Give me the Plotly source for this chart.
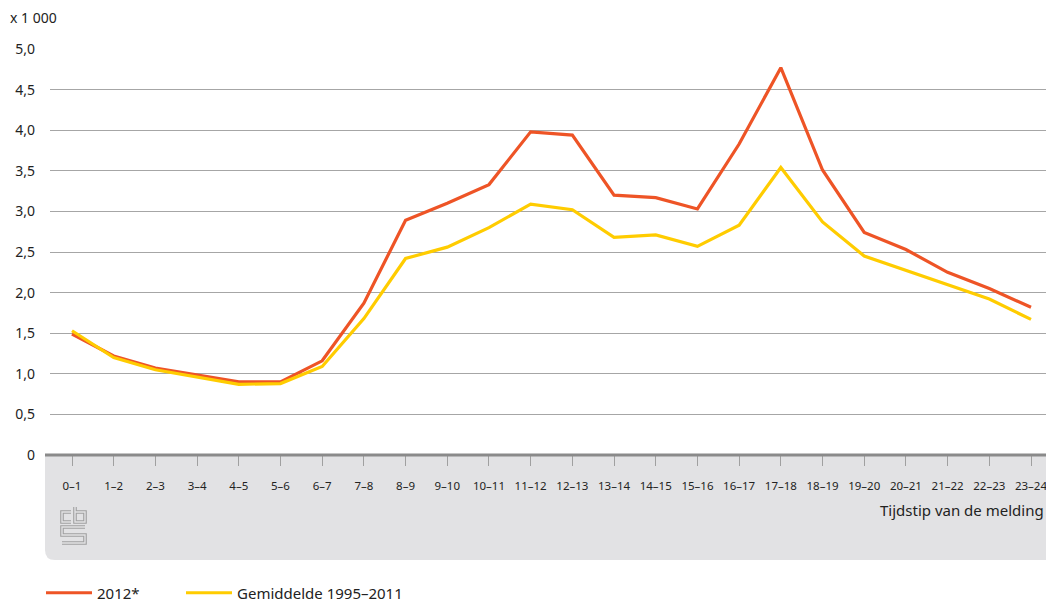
import plotly.graph_objects as go

categories = ["0–1", "1–2", "2–3", "3–4", "4–5", "5–6", "6–7", "7–8", "8–9", "9–10",
              "10–11", "11–12", "12–13", "13–14", "14–15", "15–16", "16–17", "17–18",
              "18–19", "19–20", "20–21", "21–22", "22–23", "23–24"]
series_2012 = [1.49, 1.22, 1.07, 0.98, 0.90, 0.90, 1.16, 1.87, 2.89, 3.10,
               3.33, 3.98, 3.94, 3.20, 3.17, 3.03, 3.83, 4.77,
               3.51, 2.74, 2.53, 2.25, 2.05, 1.82]
series_avg = [1.53, 1.20, 1.05, 0.96, 0.87, 0.88, 1.09, 1.68, 2.42, 2.56,
              2.80, 3.09, 3.02, 2.68, 2.71, 2.57, 2.83, 3.54,
              2.87, 2.45, 2.27, 2.10, 1.92, 1.67]
y_tickvals = [0, 0.5, 1.0, 1.5, 2.0, 2.5, 3.0, 3.5, 4.0, 4.5, 5.0]
y_ticktext = ["0", "0,5", "1,0", "1,5", "2,0", "2,5", "3,0", "3,5", "4,0", "4,5", "5,0"]
name_2012 = "2012*"
name_avg = "Gemiddelde 1995–2011"
x_title = "Tijdstip van de melding"
y_unit = "x 1 000"

W, H = 1046, 603
L, R, T, B = 50, 0, 49, 148
PW = W - L - R
PH = H - T - B

def px(x):
    return (x - L) / PW

def py(y):
    return (H - B - y) / PH

FONT = "Noto Sans"
TXT = "#222222"

fig = go.Figure()
fig.add_trace(go.Scatter(x=categories, y=series_2012, mode="lines", name=name_2012,
                         legend="legend",
                         line=dict(color="#EE5426", width=3.2)))
fig.add_trace(go.Scatter(x=categories, y=series_avg, mode="lines", name=name_avg,
                         legend="legend2",
                         line=dict(color="#FFCC00", width=3.2)))

shapes = []
# grey band below the axis
x0, x1, y0, y1 = px(45), 1.0, 0.0, py(560)
rx, ry = 10 / PW, 10 / PH
shapes.append(dict(type="path", xref="paper", yref="paper", layer="below",
                   path=f"M {x0},{y0} L {x1},{y0} L {x1},{y1} L {x0+rx},{y1} Q {x0},{y1} {x0},{y1+ry} Z",
                   fillcolor="#E2E2E4", line=dict(width=0)))
# axis line
shapes.append(dict(type="line", xref="paper", yref="paper", x0=px(45), x1=1.0, y0=0, y1=0,
                   line=dict(color="#8A8A8A", width=3)))

# cbs logo (approximate, double stroke)
logo_paths = [
    [(71, 512), (62, 512), (62, 522), (71, 522)],
    [(75, 507), (75, 522), (85, 522), (85, 512), (75, 512)],
    [(85, 527), (62, 527), (62, 535), (85, 535), (85, 543), (62, 543)],
]
for pts in logo_paths:
    d = "M " + " L ".join(f"{px(a)},{py(b)}" for a, b in pts)
    shapes.append(dict(type="path", xref="paper", yref="paper", path=d,
                       line=dict(color="#A0A0A0", width=3.6)))
    shapes.append(dict(type="path", xref="paper", yref="paper", path=d,
                       line=dict(color="#E2E2E4", width=1.4)))

annotations = [
    dict(text=y_unit, xref="paper", yref="paper", x=px(8), y=py(18), xanchor="left",
         yanchor="middle", showarrow=False, font=dict(family=FONT, size=14, color=TXT)),
    dict(text=x_title, xref="paper", yref="paper", x=1.0, y=py(510), xanchor="right",
         yanchor="middle", showarrow=False, font=dict(family=FONT, size=15, color=TXT)),
]

s = (1031 - 72) / 23
xr0 = -(72 - L) / s
xr1 = 23 + (1046 - 1031) / s

legend_common = dict(orientation="h", yanchor="middle", itemwidth=46,
                     font=dict(family=FONT, size=15, color=TXT),
                     bgcolor="rgba(0,0,0,0)")

fig.update_layout(
    width=W, height=H,
    margin=dict(l=L, r=R, t=T, b=B, pad=0, autoexpand=False),
    paper_bgcolor="white", plot_bgcolor="white",
    font=dict(family=FONT, color=TXT),
    shapes=shapes, annotations=annotations,
    showlegend=True,
    legend=dict(x=px(41), y=py(593), xanchor="left", **legend_common),
    legend2=dict(x=px(181), y=py(593), xanchor="left", **legend_common),
    xaxis=dict(type="category", range=[xr0, xr1], showgrid=False, zeroline=False,
               showline=False, ticks="outside", ticklen=10, tickcolor="#A0A0A0",
               tickwidth=1, tickmode="array", tickvals=categories, ticktext=categories,
               tickfont=dict(family=FONT, size=11.5, color=TXT), ticklabelstandoff=10),
    yaxis=dict(range=[0, 5.0], tickmode="array", tickvals=y_tickvals, ticktext=y_ticktext,
               showgrid=True, gridcolor="#A6A6A6", gridwidth=1, zeroline=False,
               showline=False, ticks="", tickfont=dict(family=FONT, size=14, color=TXT),
               ticklabelstandoff=14),
)

fig.write_html("out.html",
               config={"displayModeBar": False},
               post_script="document.documentElement.style.margin='0';"
                           "document.body.style.margin='0';"
                           "document.body.style.padding='0';"
                           "document.body.style.overflow='hidden';")
